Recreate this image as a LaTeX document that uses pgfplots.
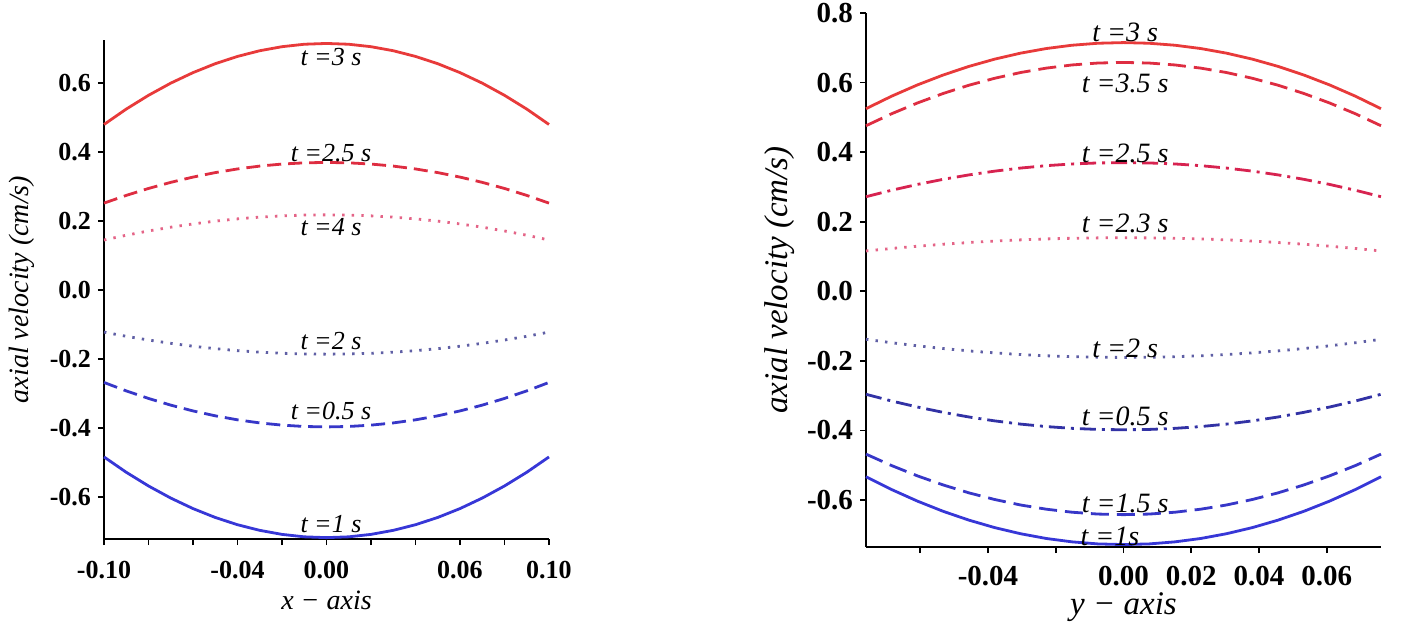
\documentclass[border=0pt]{standalone}
\usepackage{fontspec}
\setmainfont{Liberation Serif}
\usepackage{pgfplots}
\usepackage{pgfplotstable}
\pgfplotsset{compat=1.18}

\definecolor{cRedSolid}{RGB}{232,58,58}
\definecolor{cRedDash}{RGB}{222,45,65}
\definecolor{cRedDashDot}{RGB}{215,35,80}
\definecolor{cPink}{RGB}{228,100,135}
\definecolor{cSlate}{RGB}{95,95,165}
\definecolor{cBlueDash}{RGB}{55,55,200}
\definecolor{cBlueDashDot}{RGB}{50,50,165}
\definecolor{cBlueSolid}{RGB}{55,55,215}

% left panel: x-axis profiles
\pgfplotstableread{
x      t3     t25    t4     t2      t05     t1
-0.10  0.4800 0.2520 0.1450 -0.1220 -0.2680 -0.4840
-0.09  0.5247 0.2744 0.1589 -0.1342 -0.2925 -0.5285
-0.08  0.5646 0.2945 0.1713 -0.1450 -0.3144 -0.5682
-0.07  0.5999 0.3122 0.1822 -0.1546 -0.3338 -0.6033
-0.06  0.6304 0.3275 0.1917 -0.1630 -0.3506 -0.6338
-0.05  0.6563 0.3405 0.1998 -0.1700 -0.3648 -0.6595
-0.04  0.6774 0.3511 0.2063 -0.1758 -0.3764 -0.6806
-0.03  0.6939 0.3594 0.2114 -0.1802 -0.3854 -0.6969
-0.02  0.7056 0.3653 0.2151 -0.1834 -0.3918 -0.7086
-0.01  0.7127 0.3688 0.2173 -0.1854 -0.3957 -0.7157
 0.00  0.7150 0.3700 0.2180 -0.1860 -0.3970 -0.7180
 0.01  0.7127 0.3688 0.2173 -0.1854 -0.3957 -0.7157
 0.02  0.7056 0.3653 0.2151 -0.1834 -0.3918 -0.7086
 0.03  0.6939 0.3594 0.2114 -0.1802 -0.3854 -0.6969
 0.04  0.6774 0.3511 0.2063 -0.1758 -0.3764 -0.6806
 0.05  0.6563 0.3405 0.1998 -0.1700 -0.3648 -0.6595
 0.06  0.6304 0.3275 0.1917 -0.1630 -0.3506 -0.6338
 0.07  0.5999 0.3122 0.1822 -0.1546 -0.3338 -0.6033
 0.08  0.5646 0.2945 0.1713 -0.1450 -0.3144 -0.5682
 0.09  0.5247 0.2744 0.1589 -0.1342 -0.2925 -0.5285
 0.10  0.4800 0.2520 0.1450 -0.1220 -0.2680 -0.4840
}\lefttable

% right panel: y-axis profiles
\pgfplotstableread{
x       t3     t35    t25    t23    t2      t05     t15     t1
-0.0760 0.5250 0.4760 0.2720 0.1160 -0.1380 -0.2960 -0.4680 -0.5330
-0.0684 0.5611 0.5106 0.2906 0.1232 -0.1479 -0.3154 -0.5011 -0.5700
-0.0608 0.5934 0.5415 0.3073 0.1297 -0.1567 -0.3327 -0.5306 -0.6032
-0.0532 0.6219 0.5688 0.3220 0.1354 -0.1645 -0.3480 -0.5567 -0.6325
-0.0456 0.6466 0.5925 0.3347 0.1403 -0.1713 -0.3613 -0.5794 -0.6578
-0.0380 0.6675 0.6125 0.3455 0.1445 -0.1770 -0.3725 -0.5985 -0.6793
-0.0304 0.6846 0.6289 0.3543 0.1479 -0.1817 -0.3817 -0.6142 -0.6968
-0.0228 0.6979 0.6416 0.3612 0.1506 -0.1853 -0.3888 -0.6263 -0.7105
-0.0152 0.7074 0.6507 0.3661 0.1525 -0.1879 -0.3939 -0.6350 -0.7202
-0.0076 0.7131 0.6562 0.3690 0.1536 -0.1895 -0.3970 -0.6403 -0.7261
 0.0000 0.7150 0.6580 0.3700 0.1540 -0.1900 -0.3980 -0.6420 -0.7280
 0.0076 0.7131 0.6562 0.3690 0.1536 -0.1895 -0.3970 -0.6403 -0.7261
 0.0152 0.7074 0.6507 0.3661 0.1525 -0.1879 -0.3939 -0.6350 -0.7202
 0.0228 0.6979 0.6416 0.3612 0.1506 -0.1853 -0.3888 -0.6263 -0.7105
 0.0304 0.6846 0.6289 0.3543 0.1479 -0.1817 -0.3817 -0.6142 -0.6968
 0.0380 0.6675 0.6125 0.3455 0.1445 -0.1770 -0.3725 -0.5985 -0.6793
 0.0456 0.6466 0.5925 0.3347 0.1403 -0.1713 -0.3613 -0.5794 -0.6578
 0.0532 0.6219 0.5688 0.3220 0.1354 -0.1645 -0.3480 -0.5567 -0.6325
 0.0608 0.5934 0.5415 0.3073 0.1297 -0.1567 -0.3327 -0.5306 -0.6032
 0.0684 0.5611 0.5106 0.2906 0.1232 -0.1479 -0.3154 -0.5011 -0.5700
 0.0760 0.5250 0.4760 0.2720 0.1160 -0.1380 -0.2960 -0.4680 -0.5330
}\righttable

\pgfplotsset{
  panel/.style={
    scale only axis,
    axis lines*=left,
    axis line style={line width=1.1pt,black},
    tick align=outside,
    major tick length=3pt,
    tick style={black,line width=0.9pt},
    scaled ticks=false,
    clip=false,
  },
  dashedA/.style={dash pattern=on 7pt off 3.5pt},
  dashedB/.style={dash pattern=on 9pt off 4pt},
  dottedA/.style={dash pattern=on 1.2pt off 3.6pt},
  dashdotA/.style={dash pattern=on 8pt off 3pt on 1.5pt off 3pt},
}

\begin{document}
\begin{tikzpicture}
\path[use as bounding box] (0,0) rectangle (704.5pt,317pt);

\begin{axis}[panel,
  at={(52pt,47.5pt)}, anchor=south west,
  width=222.5pt, height=249.5pt,
  xmin=-0.1, xmax=0.1, ymin=-0.722, ymax=0.725,
  xtick={-0.1,-0.08,-0.06,-0.04,-0.02,0,0.02,0.04,0.06,0.08,0.1},
  xticklabels={-0.10,{},{},-0.04,{},0.00,{},{},0.06,{},0.10},
  ytick={-0.6,-0.4,-0.2,0,0.2,0.4,0.6},
  yticklabels={-0.6,-0.4,-0.2,0.0,0.2,0.4,0.6},
  tick label style={font=\fontsize{13}{15}\selectfont\bfseries},
  xticklabel style={yshift=-4.5pt},
  xlabel={\textit{x − axis}},
  ylabel={\textit{axial velocity (cm/s)}},
  xlabel style={at={(axis description cs:0.5,0)}, anchor=center, yshift=-30.5pt, font=\fontsize{14}{16}\selectfont},
  ylabel style={at={(axis description cs:-0.184,0.5)}, anchor=center, font=\fontsize{14}{16}\selectfont},
]
\addplot[cRedSolid, line width=1.4pt] table[x=x,y=t3]{\lefttable};
\addplot[cRedDash, line width=1.4pt, dashedA] table[x=x,y=t25]{\lefttable};
\addplot[cPink, line width=1.4pt, dottedA] table[x=x,y=t4]{\lefttable};
\addplot[cSlate, line width=1.4pt, dottedA] table[x=x,y=t2]{\lefttable};
\addplot[cBlueDash, line width=1.4pt, dashedA] table[x=x,y=t05]{\lefttable};
\addplot[cBlueSolid, line width=1.4pt] table[x=x,y=t1]{\lefttable};
\begin{scope}[every node/.style={font=\fontsize{13}{15}\selectfont}]
\node at (axis cs:0.002,0.675) {\textit{t =3 s}};
\node at (axis cs:0.002,0.397) {\textit{t =2.5 s}};
\node at (axis cs:0.002,0.183) {\textit{t =4 s}};
\node at (axis cs:0.002,-0.148) {\textit{t =2 s}};
\node at (axis cs:0.002,-0.351) {\textit{t =0.5 s}};
\node at (axis cs:0.002,-0.678) {\textit{t =1 s}};
\end{scope}
\end{axis}

\begin{axis}[panel,
  at={(433pt,43.5pt)}, anchor=south west,
  width=257.5pt, height=267pt,
  xmin=-0.076, xmax=0.076, ymin=-0.735, ymax=0.8,
  xtick={-0.06,-0.04,-0.02,0,0.02,0.04,0.06},
  xticklabels={{},-0.04,{},0.00,0.02,0.04,0.06},
  ytick={-0.6,-0.4,-0.2,0,0.2,0.4,0.6,0.8},
  yticklabels={-0.6,-0.4,-0.2,0.0,0.2,0.4,0.6,0.8},
  tick label style={font=\fontsize{14.5}{16}\selectfont\bfseries},
  xticklabel style={yshift=-3pt},
  xlabel={\textit{y − axis}},
  ylabel={\textit{axial velocity (cm/s)}},
  xlabel style={at={(axis description cs:0.5,0)}, anchor=center, yshift=-30pt, font=\fontsize{16.5}{18}\selectfont},
  ylabel style={at={(axis description cs:-0.167,0.5)}, anchor=center, font=\fontsize{16.5}{18}\selectfont},
]
\addplot[cRedSolid, line width=1.4pt] table[x=x,y=t3]{\righttable};
\addplot[cRedDash, line width=1.4pt, dashedB] table[x=x,y=t35]{\righttable};
\addplot[cRedDashDot, line width=1.4pt, dashdotA] table[x=x,y=t25]{\righttable};
\addplot[cPink, line width=1.4pt, dottedA] table[x=x,y=t23]{\righttable};
\addplot[cSlate, line width=1.4pt, dottedA] table[x=x,y=t2]{\righttable};
\addplot[cBlueDashDot, line width=1.4pt, dashdotA] table[x=x,y=t05]{\righttable};
\addplot[cBlueDash, line width=1.4pt, dashedB] table[x=x,y=t15]{\righttable};
\addplot[cBlueSolid, line width=1.4pt] table[x=x,y=t1]{\righttable};
\begin{scope}[every node/.style={font=\fontsize{14}{16}\selectfont}]
\node at (axis cs:0.0005,0.744) {\textit{t =3 s}};
\node at (axis cs:0.0005,0.597) {\textit{t =3.5 s}};
\node at (axis cs:0.0005,0.395) {\textit{t =2.5 s}};
\node at (axis cs:0.0005,0.194) {\textit{t =2.3 s}};
\node at (axis cs:0.0005,-0.164) {\textit{t =2 s}};
\node at (axis cs:0.0005,-0.360) {\textit{t =0.5 s}};
\node at (axis cs:0.0005,-0.610) {\textit{t =1.5 s}};
\node at (axis cs:-0.004,-0.705) {\textit{t =1s}};
\end{scope}
\end{axis}
\end{tikzpicture}
\end{document}
